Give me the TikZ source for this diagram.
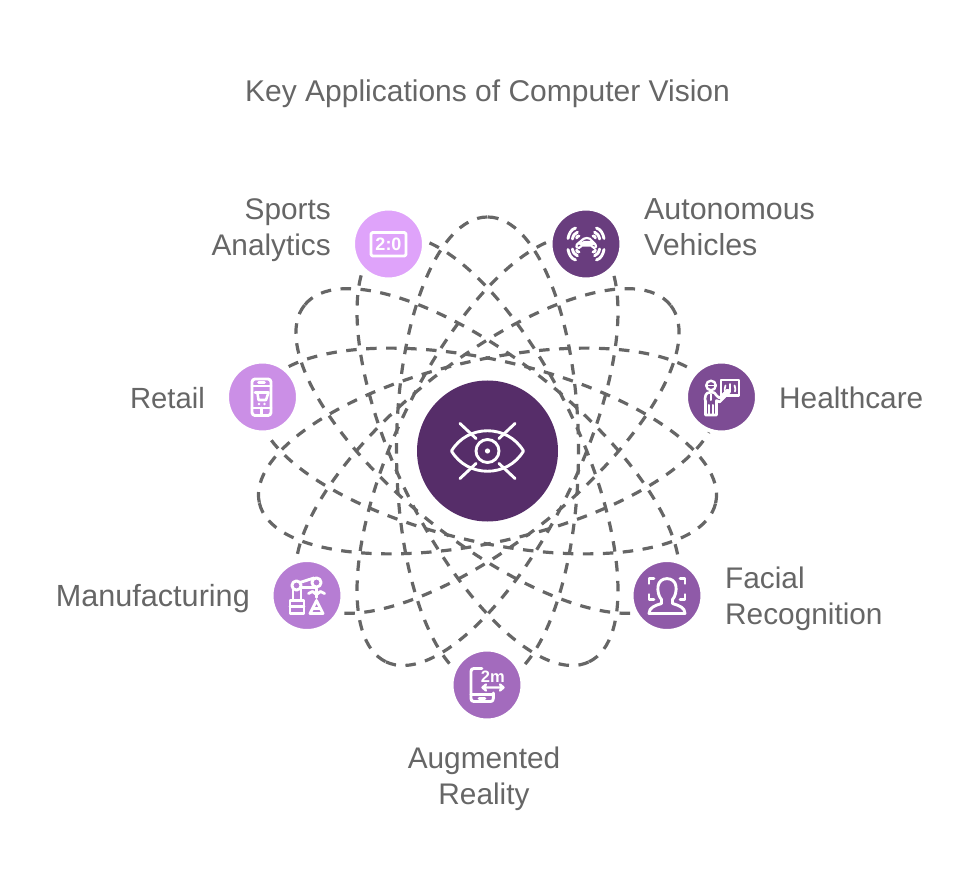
\documentclass[tikz,border=0pt]{standalone}
\usepackage{fontspec}
\setmainfont{Liberation Sans}
\usepackage{tikz}
\usepackage{xcolor}
\definecolor{inkgrey}{HTML}{666666}
\definecolor{hubcol}{HTML}{562D69}
\definecolor{sportscol}{HTML}{DFA3FA}
\definecolor{autocol}{HTML}{693D7E}
\definecolor{healthcol}{HTML}{7D4C94}
\definecolor{facecol}{HTML}{8F5AA8}
\definecolor{augcol}{HTML}{A36BBD}
\definecolor{manufcol}{HTML}{B67DD3}
\definecolor{retailcol}{HTML}{CB8FE6}

\tikzset{
  orbit/.style={draw=inkgrey,line width=3.2pt,dash pattern=on 10.5pt off 9.5pt},
  appicon/.style={circle,draw=white,line width=4pt,minimum size=71pt,inner sep=0pt},
  iconline/.style={draw=white,line width=2.9pt,line cap=round,line join=round},
  caption/.style={text=inkgrey,font=\fontsize{29.8}{36}\selectfont,inner sep=0pt},
  icontext/.style={text=white,inner sep=0pt,font=\bfseries\fontsize{#1}{#1}\selectfont}
}

\begin{document}
\begin{tikzpicture}[x=1pt,y=-1pt]
  \useasboundingbox (0,0) rectangle (975,885);
  \coordinate (centre) at (487.5,451);

  \foreach \ang in {90,141.43,192.86,244.29,295.71,347.14,38.57}
    \draw[orbit] (centre) ellipse [x radius=234pt,y radius=91pt,rotate=\ang];

  \node[circle,fill=hubcol,minimum size=141pt,inner sep=0pt] (hub) at (centre) {};
  \node[appicon,fill=sportscol] (sports) at (388.5,244) {};
  \node[appicon,fill=autocol] (auto) at (586,244) {};
  \node[appicon,fill=healthcol] (health) at (721.5,397) {};
  \node[appicon,fill=facecol] (face) at (667,595.5) {};
  \node[appicon,fill=augcol] (aug) at (487,685) {};
  \node[appicon,fill=manufcol] (manuf) at (307,595.5) {};
  \node[appicon,fill=retailcol] (retail) at (262.5,397) {};

  \node[text=inkgrey,font=\fontsize{30}{36}\selectfont,inner sep=0pt] (title) at (487.5,94) {Key Applications of Computer Vision};
  \node[caption,align=right,anchor=east] (sportslabel) at (331,230) {Sports\\Analytics};
  \node[caption,align=left,anchor=west,font=\fontsize{30.4}{36}\selectfont] (autolabel) at (644,227) {Autonomous\\Vehicles};
  \node[caption,anchor=west] (healthlabel) at (779,398) {Healthcare};
  \node[caption,align=left,anchor=west] (facelabel) at (725,599) {Facial\\Recognition};
  \node[caption,align=center] (auglabel) at (484,779) {Augmented\\Reality};
  \node[caption,anchor=east,font=\fontsize{30.6}{36}\selectfont] (manuflabel) at (250,599) {Manufacturing};
  \node[caption,anchor=east,font=\fontsize{29.2}{36}\selectfont] (retaillabel) at (205,398) {Retail};

  % hub eye
  \begin{scope}[shift={(hub)}]
    \draw[iconline] (-36,0) .. controls (-20,-27) and (20,-27) .. (36,0) .. controls (20,27) and (-20,27) .. cycle;
    \draw[iconline] (0,0) circle [radius=11.5pt];
    \fill[white] (0,0) circle [radius=2.6pt];
    \foreach \sx/\sy in {1/1,-1/1,1/-1,-1/-1}
      \draw[iconline,xscale=\sx,yscale=\sy] (11.5,12.5) -- (27.5,27.5);
  \end{scope}

  % scoreboard
  \begin{scope}[shift={(sports)}]
    \draw[iconline,rounded corners=2pt] (-17.5,-11.5) rectangle (17.5,12);
    \node[icontext=18] (score) at (0,0.5) {2:0};
  \end{scope}

  % car with waves
  \begin{scope}[shift={(auto)}]
    \foreach \sx/\sy in {1/1,-1/1,1/-1,-1/-1}{
      \begin{scope}[xscale=\sx,yscale=\sy]
        \draw[iconline] (-18,-5.5) .. controls (-17,-10.5) and (-15,-14.5) .. (-10.5,-16);
        \draw[iconline] (-13.6,-5) .. controls (-12.8,-8.5) and (-11.6,-10.6) .. (-8.6,-11.8);
        \draw[iconline] (-9.4,-6) .. controls (-9,-7.4) and (-8.4,-8) .. (-7,-8);
      \end{scope}
    }
    \draw[iconline,line width=2.2pt] (-9.5,3) .. controls (-10,-1) and (-7,0) .. (-5,-3) .. controls (-2,-7) and (4,-7) .. (6,-3) .. controls (7,-1) and (10,-1) .. (10,3) -- (8,4) -- (5,1.5) -- (-4,1.5) -- (-7,4) -- cycle;
    \fill[white] (-9,0) -- (-2,-3) -- (7,-3) -- (9.5,1) -- (4,1.5) -- (-4,1.5) -- cycle;
  \end{scope}

  % doctor and board
  \begin{scope}[shift={(health)}]
    \draw[iconline,line width=2.4pt] (-10.5,-11.5) circle [radius=4.8pt];
    \draw[iconline,line width=1.8pt] (-14,-11.5) -- (-7,-11.5);
    \draw[iconline,line width=2.4pt] (-0.5,-17) rectangle (17.5,-1.5);
    \draw[iconline,line width=1.8pt] (8.5,-13) -- (8.5,-5) (4,-11.5) .. controls (3,-8) and (3,-7) .. (3.5,-5.5) (13,-11.5) .. controls (14,-8) and (14,-7) .. (13.5,-5.5);
    \draw[iconline,line width=2.6pt] (-16.5,2) .. controls (-16.5,-4) and (-13,-5) .. (-10.5,-5) .. controls (-8,-5) and (-6,-4) .. (-4.5,-1) -- (-2,1) -- (6,-7) -- (8,-5) -- (-2,5) -- (-5,3.5) -- (-5,18) -- (-16,18) -- (-16,4) -- cycle;
    \draw[iconline,line width=2pt] (-10.5,-3) -- (-10.5,3) (-12.5,8) -- (-12.5,18) (-8.5,8) -- (-8.5,18);
  \end{scope}

  % face scan
  \begin{scope}[shift={(face)}]
    \foreach \sx in {1,-1}
      \draw[iconline,xscale=\sx] (-18,-12) -- (-18,-17) -- (-13,-17) (-18,-1) -- (-18,4) -- (-13,4);
    \draw[iconline] (-18,18) .. controls (-18,12) and (-12,10) .. (-5.5,8) -- (-5.5,4) .. controls (-8.5,1) and (-9.5,-5) .. (-9,-9) .. controls (-8,-19.5) and (8,-19.5) .. (9,-9) .. controls (9.5,-5) and (8.5,1) .. (5.5,4) -- (5.5,8) .. controls (12,10) and (18,12) .. (18,18) -- cycle;
  \end{scope}

  % phone with measure
  \begin{scope}[shift={(aug)}]
    \draw[iconline] (-5,-16.5) -- (-13,-16.5) .. controls (-15,-16.5) and (-16,-15.5) .. (-16,-13.5) -- (-16,13.5) .. controls (-16,15.5) and (-15,16.5) .. (-13,16.5) -- (3.5,16.5) .. controls (5.5,16.5) and (6.3,15.5) .. (6.3,13.5) -- (6.3,8);
    \draw[iconline] (-16,9.5) -- (6.3,9.5) (-8,13.2) -- (-2,13.2);
    \node[icontext=16.5] (metres) at (5.8,-8.5) {2m};
    \draw[iconline,line width=2.4pt] (-4.5,2.5) -- (16.5,2.5) (-1,-0.5) -- (-4.5,2.5) -- (-1,5.5) (13,-0.5) -- (16.5,2.5) -- (13,5.5);
  \end{scope}

  % robot arm and flask
  \begin{scope}[shift={(manuf)}]
    \draw[iconline] (-17,18) rectangle (-3,5) (-17,11) -- (-3,11);
    \draw[iconline] (-14,5) -- (-14,-5) (-6,5) -- (-6,-6);
    \draw[iconline] (-10.5,-10) circle [radius=4.6pt];
    \draw[iconline] (-7,-13) -- (7,-17.5) (-5.5,-8) -- (9,-8);
    \draw[iconline] (9.5,-13) circle [radius=4.6pt];
    \draw[iconline] (9.5,-7) -- (9.5,2) (1.5,-2) -- (5.5,-4) -- (9.5,-1) -- (13.5,-4) -- (17.5,-2);
    \draw[iconline] (3,18) -- (9.5,5) -- (16,18) -- cycle (6,13) -- (13,13);
  \end{scope}

  % phone with cart
  \begin{scope}[shift={(retail)}]
    \draw[iconline,rounded corners=3pt] (-10.5,-18) rectangle (8.5,18.5);
    \draw[iconline] (-10.5,-11) -- (8.5,-11) (-10.5,11) -- (8.5,11) (-4,-14.8) -- (2,-14.8) (-1,11) -- (-1,18);
    \draw[iconline,line width=2.6pt] (-7.5,-4.5) -- (6,-4.5) -- (3.5,3) -- (-4,3) -- (-5,-4) (-3.5,7) -- (-3.5,7.1) (2,7) -- (2,7.1);
  \end{scope}
\end{tikzpicture}
\end{document}
